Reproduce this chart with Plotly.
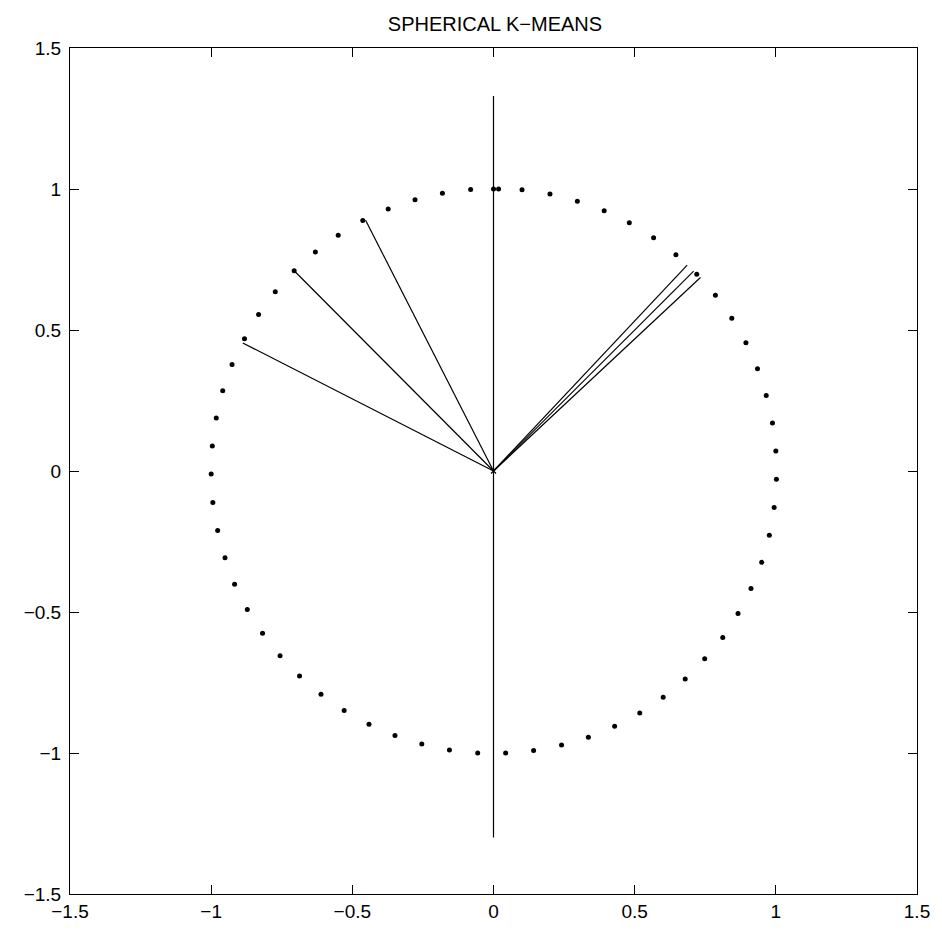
import plotly.graph_objects as go

# Data points on the unit circle
pts_x = [0.000, 0.018, 0.101, 0.200, 0.297, 0.392, 0.481, 0.567, 0.646, 0.720,
         0.786, 0.844, 0.894, 0.935, 0.966, 0.988, 1.000, 1.002, 0.994, 0.977,
         0.950, 0.912, 0.866, 0.812, 0.748, 0.679, 0.601, 0.518, 0.429, 0.336,
         0.241, 0.142, 0.043, -0.056, -0.156, -0.254, -0.349, -0.441, -0.529, -0.611,
         -0.687, -0.756, -0.818, -0.872, -0.917, -0.951, -0.977, -0.994, -1.000, -0.996,
         -0.982, -0.959, -0.926, -0.882, -0.832, -0.773, -0.706, -0.631, -0.550, -0.463,
         -0.373, -0.278, -0.181, -0.081]
pts_y = [1.000, 1.000, 0.997, 0.982, 0.957, 0.923, 0.880, 0.827, 0.767, 0.698,
         0.623, 0.542, 0.455, 0.363, 0.268, 0.170, 0.071, -0.029, -0.129, -0.228,
         -0.324, -0.417, -0.505, -0.590, -0.666, -0.738, -0.802, -0.858, -0.905, -0.944,
         -0.972, -0.991, -1.000, -0.9996, -0.989, -0.968, -0.938, -0.898, -0.849, -0.792,
         -0.727, -0.655, -0.575, -0.491, -0.402, -0.308, -0.211, -0.112, -0.011, 0.089,
         0.188, 0.285, 0.378, 0.469, 0.555, 0.636, 0.710, 0.777, 0.836, 0.888,
         0.929, 0.962, 0.985, 0.998]

# Vectors drawn from the origin (end points)
vec_x = [0.0, 0.0, -0.453, -0.706, -0.888, 0.686, 0.709, 0.733]
vec_y = [1.33, -1.30, 0.889, 0.710, 0.454, 0.730, 0.709, 0.686]

tick_vals = [-1.5, -1, -0.5, 0, 0.5, 1, 1.5]
tick_text = ["\u22121.5", "\u22121", "\u22120.5", "0", "0.5", "1", "1.5"]

lx, ly = [], []
for ex, ey in zip(vec_x, vec_y):
    lx += [0, ex, None]
    ly += [0, ey, None]

fig = go.Figure()
fig.add_trace(go.Scatter(x=lx, y=ly, mode="lines",
                         line=dict(color="black", width=1.2),
                         hoverinfo="skip", showlegend=False))
fig.add_trace(go.Scatter(x=pts_x, y=pts_y, mode="markers",
                         marker=dict(color="black", size=5),
                         showlegend=False))
fig.add_trace(go.Scatter(x=[0], y=[0], mode="markers",
                         marker=dict(color="black", size=5, symbol="x-thin",
                                     line=dict(color="black", width=1.2)),
                         showlegend=False))

font_fam = "Liberation Sans, Arial"
axis_common = dict(range=[-1.5, 1.5], tickvals=tick_vals, ticktext=tick_text,
                   showgrid=False, zeroline=False, showline=True,
                   linecolor="black", linewidth=1, mirror="ticks",
                   ticks="inside", ticklen=9, tickcolor="black", tickwidth=1,
                   tickfont=dict(family=font_fam, size=19, color="black"))

fig.update_layout(
    width=942, height=934,
    margin=dict(l=70, r=22, t=48, b=35),
    paper_bgcolor="white", plot_bgcolor="white",
    title=dict(text="SPHERICAL K\u2212MEANS", x=(70 + 425) / 942, xanchor="center",
               y=1 - 24 / 934, yanchor="middle",
               font=dict(family=font_fam, size=20, color="black")),
    xaxis=axis_common,
    yaxis=dict(axis_common, ticklabelstandoff=4),
)

fig.write_html("out.html")
